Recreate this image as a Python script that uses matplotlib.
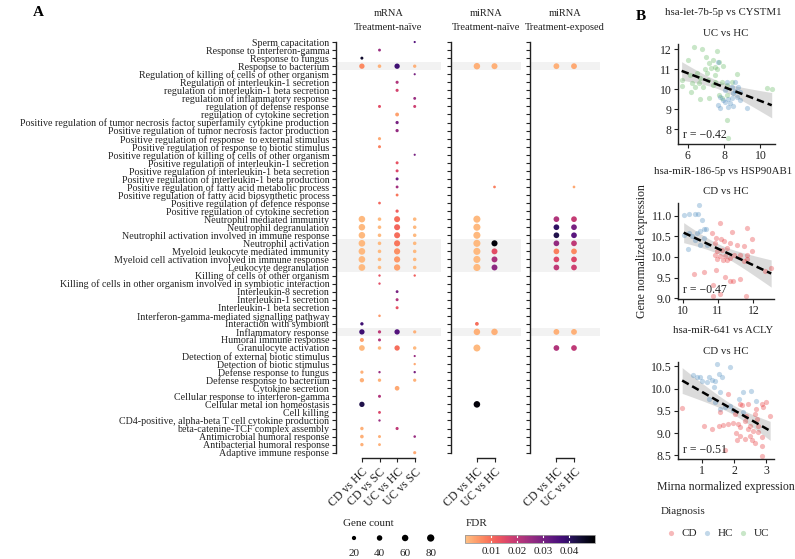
import numpy as np
import matplotlib
matplotlib.use("Agg")
import matplotlib.pyplot as plt
from matplotlib.colors import ListedColormap, Normalize
from matplotlib.cm import ScalarMappable

plt.rcParams["font.family"] = ["Liberation Serif", "DejaVu Serif"]

W, H = 795, 559

# ---- panel A data -------------------------------------------------------
terms = [
    "Sperm capacitation",
    "Response to interferon-gamma",
    "Response to fungus",
    "Response to bacterium",
    "Regulation of killing of cells of other organism",
    "Regulation of interleukin-1 secretion",
    "regulation of interleukin-1 beta secretion",
    "regulation of inflammatory response",
    "regulation of defense response",
    "regulation of cytokine secretion",
    "Positive regulation of tumor necrosis factor superfamily cytokine production",
    "Positive regulation of tumor necrosis factor production",
    "Positive regulation of response  to external stimulus",
    "Positive regulation of response to biotic stimulus",
    "Positive regulation of killing of cells of other organism",
    "Positive regulation of interleukin-1 secretion",
    "Positive regulation of interleukin-1 beta secretion",
    "Positive regulation of interleukin-1 beta production",
    "Positive regulation of fatty acid metabolic process",
    "Positive regulation of fatty acid biosynthetic process",
    "Positive regulation of defence response",
    "Positive regulation of cytokine secretion",
    "Neutrophil mediated immunity",
    "Neutrophil degranulation",
    "Neutrophil activation involved in immune response",
    "Neutrophil activation",
    "Myeloid leukocyte mediated immunity",
    "Myeloid cell activation involved in immune response",
    "Leukocyte degranulation",
    "Killing of cells of other organism",
    "Killing of cells in other organism involved in symbiotic interaction",
    "Interleukin-8 secretion",
    "Interleukin-1 secretion",
    "Interleukin-1 beta secretion",
    "Interferon-gamma-mediated signalling pathway",
    "Interaction with symbiont",
    "Inflammatory response",
    "Humoral immune response",
    "Granulocyte activation",
    "Detection of external biotic stimulus",
    "Detection of biotic stimulus",
    "Defense response to fungus",
    "Defense response to bacterium",
    "Cytokine secretion",
    "Cellular response to interferon-gamma",
    "Cellular metal ion homeostasis",
    "Cell killing",
    "CD4-positive, alpha-beta T cell cytokine production",
    "beta-catenine-TCF complex assembly",
    "Antimicrobial humoral response",
    "Antibacterial humoral response",
    "Adaptive immune response",
]

highlight = ["Response to bacterium", "Neutrophil activation",
             "Myeloid leukocyte mediated immunity",
             "Myeloid cell activation involved in immune response",
             "Leukocyte degranulation", "Inflammatory response"]

mrna_comps = ["CD vs HC", "CD vs SC", "UC vs HC", "UC vs SC"]
mirna_comps = ["CD vs HC", "UC vs HC"]

# (term, comparison, gene count, FDR)
mrna_naive = [
    ("Sperm capacitation", "UC vs SC", 2, 0.035),
    ("Response to interferon-gamma", "CD vs SC", 6, 0.025),
    ("Response to fungus", "CD vs HC", 7, 0.045),
    ("Response to bacterium", "CD vs HC", 37, 0.007),
    ("Response to bacterium", "CD vs SC", 12, 0.002),
    ("Response to bacterium", "UC vs HC", 37, 0.038),
    ("Response to bacterium", "UC vs SC", 10, 0.002),
    ("Regulation of killing of cells of other organism", "UC vs SC", 2, 0.03),
    ("Regulation of interleukin-1 secretion", "UC vs HC", 8, 0.022),
    ("regulation of interleukin-1 beta secretion", "UC vs HC", 8, 0.017),
    ("regulation of inflammatory response", "UC vs SC", 6, 0.025),
    ("regulation of defense response", "CD vs SC", 7, 0.015),
    ("regulation of defense response", "UC vs SC", 7, 0.018),
    ("regulation of cytokine secretion", "UC vs HC", 15, 0.004),
    ("Positive regulation of tumor necrosis factor superfamily cytokine production", "UC vs HC", 9, 0.03),
    ("Positive regulation of tumor necrosis factor production", "UC vs HC", 9, 0.026),
    ("Positive regulation of response  to external stimulus", "CD vs SC", 8, 0.003),
    ("Positive regulation of response to biotic stimulus", "CD vs SC", 7, 0.008),
    ("Positive regulation of killing of cells of other organism", "UC vs SC", 2, 0.03),
    ("Positive regulation of interleukin-1 secretion", "UC vs HC", 7, 0.014),
    ("Positive regulation of interleukin-1 beta secretion", "UC vs HC", 7, 0.016),
    ("Positive regulation of interleukin-1 beta production", "UC vs HC", 7, 0.032),
    ("Positive regulation of fatty acid metabolic process", "UC vs HC", 6, 0.024),
    ("Positive regulation of fatty acid biosynthetic process", "UC vs HC", 6, 0.009),
    ("Positive regulation of defence response", "CD vs SC", 5, 0.011),
    ("Positive regulation of cytokine secretion", "UC vs HC", 9, 0.012),
    ("Neutrophil mediated immunity", "CD vs HC", 62, 0.001),
    ("Neutrophil mediated immunity", "CD vs SC", 12, 0.001),
    ("Neutrophil mediated immunity", "UC vs HC", 50, 0.010),
    ("Neutrophil mediated immunity", "UC vs SC", 12, 0.001),
    ("Neutrophil degranulation", "CD vs HC", 62, 0.001),
    ("Neutrophil degranulation", "CD vs SC", 12, 0.001),
    ("Neutrophil degranulation", "UC vs HC", 50, 0.011),
    ("Neutrophil degranulation", "UC vs SC", 12, 0.001),
    ("Neutrophil activation involved in immune response", "CD vs HC", 62, 0.001),
    ("Neutrophil activation involved in immune response", "CD vs SC", 12, 0.001),
    ("Neutrophil activation involved in immune response", "UC vs HC", 50, 0.010),
    ("Neutrophil activation involved in immune response", "UC vs SC", 12, 0.001),
    ("Neutrophil activation", "CD vs HC", 64, 0.001),
    ("Neutrophil activation", "CD vs SC", 12, 0.001),
    ("Neutrophil activation", "UC vs HC", 52, 0.009),
    ("Neutrophil activation", "UC vs SC", 12, 0.001),
    ("Myeloid leukocyte mediated immunity", "CD vs HC", 65, 0.001),
    ("Myeloid leukocyte mediated immunity", "CD vs SC", 12, 0.001),
    ("Myeloid leukocyte mediated immunity", "UC vs HC", 54, 0.006),
    ("Myeloid leukocyte mediated immunity", "UC vs SC", 12, 0.001),
    ("Myeloid cell activation involved in immune response", "CD vs HC", 65, 0.001),
    ("Myeloid cell activation involved in immune response", "CD vs SC", 12, 0.001),
    ("Myeloid cell activation involved in immune response", "UC vs HC", 54, 0.005),
    ("Myeloid cell activation involved in immune response", "UC vs SC", 12, 0.001),
    ("Leukocyte degranulation", "CD vs HC", 66, 0.001),
    ("Leukocyte degranulation", "CD vs SC", 12, 0.001),
    ("Leukocyte degranulation", "UC vs HC", 56, 0.004),
    ("Leukocyte degranulation", "UC vs SC", 12, 0.001),
    ("Killing of cells of other organism", "CD vs SC", 3, 0.014),
    ("Killing of cells of other organism", "UC vs SC", 3, 0.012),
    ("Killing of cells in other organism involved in symbiotic interaction", "CD vs SC", 3, 0.015),
    ("Interleukin-8 secretion", "UC vs HC", 6, 0.03),
    ("Interleukin-1 secretion", "UC vs HC", 7, 0.022),
    ("Interleukin-1 beta secretion", "UC vs HC", 7, 0.014),
    ("Interferon-gamma-mediated signalling pathway", "CD vs SC", 4, 0.005),
    ("Interaction with symbiont", "CD vs HC", 10, 0.038),
    ("Inflammatory response", "CD vs HC", 37, 0.038),
    ("Inflammatory response", "CD vs SC", 9, 0.02),
    ("Inflammatory response", "UC vs HC", 37, 0.035),
    ("Inflammatory response", "UC vs SC", 9, 0.002),
    ("Humoral immune response", "CD vs HC", 17, 0.004),
    ("Humoral immune response", "CD vs SC", 7, 0.022),
    ("Granulocyte activation", "CD vs HC", 44, 0.001),
    ("Granulocyte activation", "CD vs SC", 11, 0.001),
    ("Granulocyte activation", "UC vs HC", 37, 0.010),
    ("Granulocyte activation", "UC vs SC", 11, 0.001),
    ("Detection of external biotic stimulus", "UC vs SC", 2, 0.025),
    ("Detection of biotic stimulus", "UC vs SC", 3, 0.003),
    ("Defense response to fungus", "CD vs HC", 9, 0.002),
    ("Defense response to fungus", "CD vs SC", 3, 0.025),
    ("Defense response to fungus", "UC vs SC", 3, 0.03),
    ("Defense response to bacterium", "CD vs HC", 21, 0.002),
    ("Defense response to bacterium", "CD vs SC", 10, 0.002),
    ("Defense response to bacterium", "UC vs SC", 9, 0.002),
    ("Cytokine secretion", "UC vs HC", 26, 0.003),
    ("Cellular response to interferon-gamma", "CD vs SC", 7, 0.022),
    ("Cellular metal ion homeostasis", "CD vs HC", 37, 0.042),
    ("Cell killing", "CD vs SC", 6, 0.016),
    ("CD4-positive, alpha-beta T cell cytokine production", "CD vs SC", 3, 0.025),
    ("beta-catenine-TCF complex assembly", "CD vs HC", 11, 0.002),
    ("beta-catenine-TCF complex assembly", "UC vs HC", 8, 0.02),
    ("Antimicrobial humoral response", "CD vs HC", 13, 0.002),
    ("Antimicrobial humoral response", "CD vs SC", 7, 0.002),
    ("Antimicrobial humoral response", "UC vs SC", 4, 0.025),
    ("Antibacterial humoral response", "CD vs HC", 10, 0.002),
    ("Antibacterial humoral response", "CD vs SC", 6, 0.002),
    ("Adaptive immune response", "UC vs SC", 8, 0.003),
]

mirna_naive = [
    ("Response to bacterium", "CD vs HC", 60, 0.002),
    ("Response to bacterium", "UC vs HC", 50, 0.002),
    ("Positive regulation of fatty acid metabolic process", "UC vs HC", 5, 0.008),
    ("Neutrophil mediated immunity", "CD vs HC", 75, 0.001),
    ("Neutrophil degranulation", "CD vs HC", 75, 0.001),
    ("Neutrophil activation involved in immune response", "CD vs HC", 75, 0.001),
    ("Neutrophil activation", "CD vs HC", 75, 0.001),
    ("Neutrophil activation", "UC vs HC", 52, 0.049),
    ("Myeloid leukocyte mediated immunity", "CD vs HC", 75, 0.001),
    ("Myeloid leukocyte mediated immunity", "UC vs HC", 48, 0.015),
    ("Myeloid cell activation involved in immune response", "CD vs HC", 75, 0.001),
    ("Myeloid cell activation involved in immune response", "UC vs HC", 48, 0.023),
    ("Leukocyte degranulation", "CD vs HC", 75, 0.001),
    ("Leukocyte degranulation", "UC vs HC", 48, 0.027),
    ("Interaction with symbiont", "CD vs HC", 14, 0.010),
    ("Inflammatory response", "CD vs HC", 60, 0.002),
    ("Inflammatory response", "UC vs HC", 60, 0.002),
    ("Granulocyte activation", "CD vs HC", 72, 0.001),
    ("Cellular metal ion homeostasis", "CD vs HC", 62, 0.049),
]

mirna_exposed = [
    ("Response to bacterium", "CD vs HC", 46, 0.002),
    ("Response to bacterium", "UC vs HC", 46, 0.003),
    ("Positive regulation of fatty acid metabolic process", "UC vs HC", 5, 0.003),
    ("Neutrophil mediated immunity", "CD vs HC", 44, 0.022),
    ("Neutrophil mediated immunity", "UC vs HC", 44, 0.019),
    ("Neutrophil degranulation", "CD vs HC", 44, 0.040),
    ("Neutrophil degranulation", "UC vs HC", 44, 0.030),
    ("Neutrophil activation involved in immune response", "CD vs HC", 44, 0.042),
    ("Neutrophil activation involved in immune response", "UC vs HC", 44, 0.034),
    ("Neutrophil activation", "CD vs HC", 44, 0.026),
    ("Neutrophil activation", "UC vs HC", 44, 0.020),
    ("Myeloid leukocyte mediated immunity", "CD vs HC", 44, 0.008),
    ("Myeloid leukocyte mediated immunity", "UC vs HC", 44, 0.007),
    ("Myeloid cell activation involved in immune response", "CD vs HC", 44, 0.016),
    ("Myeloid cell activation involved in immune response", "UC vs HC", 44, 0.016),
    ("Leukocyte degranulation", "CD vs HC", 44, 0.020),
    ("Leukocyte degranulation", "UC vs HC", 44, 0.018),
    ("Inflammatory response", "CD vs HC", 46, 0.002),
    ("Inflammatory response", "UC vs HC", 46, 0.002),
    ("Granulocyte activation", "CD vs HC", 44, 0.022),
    ("Granulocyte activation", "UC vs HC", 44, 0.020),
]

size_breaks = [20, 40, 60, 80]
fdr_ticks = [0.01, 0.02, 0.03, 0.04]

# ---- panel B data -------------------------------------------------------
b1_uc_x = [6.35, 6.81, 7.6, 6.0, 7.0, 7.4, 7.2, 7.74, 7.28, 6.94, 7.6, 5.67, 6.13, 6.5,
           6.68, 7.05, 7.5, 7.14, 7.5, 6.22, 6.4, 6.62, 6.86, 7.4, 7.87, 8.15, 8.42, 8.7,
           5.67, 6.17, 6.68, 7.19, 7.7, 7.87, 8.15, 8.15, 8.24, 10.35, 10.62, 7.5, 7.96]
b1_uc_y = [12.08, 12.02, 11.9, 11.45, 11.58, 11.45, 11.28, 11.35, 11.03, 10.98, 10.98,
           10.45, 10.7, 10.82, 10.53, 10.78, 10.7, 10.45, 10.37, 10.28, 10.08, 10.28,
           10.12, 10.2, 10.37, 10.2, 10.33, 10.75, 10.15, 9.87, 9.48, 9.53, 9.7, 9.53,
           9.7, 8.45, 7.53, 10.03, 9.98, 11.12, 11.15]
b1_hc_x = [7.69, 8.15, 8.6, 8.42, 8.06, 8.6, 8.88, 7.78, 7.96, 8.24, 8.42, 8.7, 8.06,
           8.33, 7.69, 8.51, 8.24, 8.88, 7.78, 9.25, 8.51, 8.79]
b1_hc_y = [11.37, 10.33, 10.37, 10.12, 9.95, 9.92, 9.87, 9.62, 9.45, 9.48, 9.53, 9.62,
           9.37, 9.28, 9.2, 9.15, 9.12, 9.45, 9.03, 9.03, 9.78, 10.12]

b2_hc_x = [10.03, 10.17, 10.36, 10.43, 10.46, 10.56, 10.03, 10.17, 10.26, 10.4, 10.5,
           10.59, 10.67, 10.14, 10.5, 10.69, 10.34, 10.59]
b2_hc_y = [11.02, 11.05, 11.05, 11.05, 11.25, 10.9, 10.54, 10.58, 10.5, 10.58, 10.62,
           10.68, 10.68, 10.19, 10.3, 10.3, 10.42, 10.46]
b2_cd_x = [11.06, 11.39, 11.81, 10.83, 10.95, 11.08, 10.92, 11.17, 11.34, 11.53, 11.72,
           11.95, 10.97, 11.11, 11.25, 10.92, 11.06, 11.2, 11.34, 10.97, 11.15, 11.44,
           11.62, 11.81, 11.95, 11.72, 11.81, 11.25, 12.33, 12.5, 10.95, 10.59, 10.31,
           11.2, 11.34, 11.41, 11.62, 10.87, 10.85, 11.06, 11.78]
b2_cd_y = [10.82, 10.6, 10.7, 10.58, 10.46, 10.44, 10.34, 10.38, 10.34, 10.3, 10.26,
           10.44, 10.14, 10.18, 10.22, 10.06, 10.03, 10.02, 9.98, 9.94, 9.92, 10.06,
           10.06, 10.06, 10.14, 9.9, 9.94, 9.92, 9.65, 9.73, 9.68, 9.63, 9.59, 9.52,
           9.41, 9.41, 9.47, 9.33, 9.05, 9.11, 9.06]

b3_hc_x = [1.46, 1.88, 0.72, 0.85, 0.95, 1.21, 1.31, 1.41, 1.52, 1.62, 1.15, 1.0, 1.36,
           1.57, 2.29, 2.52, 1.23, 2.16, 1.41, 1.72, 1.88, 1.98, 2.29, 2.68, 1.57]
b3_hc_y = [10.55, 10.48, 10.3, 10.26, 10.26, 10.27, 10.2, 10.18, 10.32, 10.26, 10.15,
           10.18, 10.03, 9.92, 9.92, 9.94, 9.77, 9.77, 9.7, 9.58, 9.62, 9.51, 9.47, 9.73,
           9.55]
b3_cd_x = [0.38, 1.82, 2.44, 2.19, 2.24, 2.68, 2.91, 3.01, 2.86, 1.57, 2.03, 2.39, 2.65,
           3.13, 2.72, 2.34, 2.49, 2.75, 1.05, 1.52, 1.67, 1.82, 1.98, 2.13, 2.19, 2.44,
           2.6, 1.31, 2.06, 2.19, 2.34, 2.49, 2.55, 2.75, 2.86, 2.65, 2.08, 1.72, 2.89,
           2.89]
b3_cd_y = [9.57, 9.88, 9.66, 9.66, 9.64, 9.55, 9.58, 9.7, 9.66, 9.47, 9.43, 9.39, 9.43,
           9.39, 9.32, 9.28, 9.17, 9.17, 9.17, 9.17, 9.19, 9.21, 9.24, 9.21, 9.13, 9.09,
           9.06, 9.09, 9.0, 8.94, 8.87, 8.94, 8.85, 9.02, 8.91, 8.79, 8.85, 8.62, 8.72,
           8.49]

group_colors = {"CD": "#e41a1c", "HC": "#377eb8", "UC": "#4daf4a"}

# ---- drawing ------------------------------------------------------------
fig = plt.figure(figsize=(W / 100, H / 100), dpi=100)


def px_axes(x0, y0, x1, y1):
    return fig.add_axes([x0 / W, 1 - y1 / H, (x1 - x0) / W, (y1 - y0) / H])


def dot_size(n):
    d = 1.2 + 0.68 * np.sqrt(np.asarray(n, dtype=float))
    return (d * 0.72) ** 2


cmap = ListedColormap(plt.get_cmap("magma")(np.linspace(0.87, 0.0, 256)))
norm = Normalize(0, 0.05)
ink = "#222222"


def dot_panel(ax, records, comps, labels):
    rows = sorted(terms.index(t) for t in highlight)
    start = rows[0]
    for a, b in zip(rows, rows[1:] + [None]):
        if b != a + 1:
            ax.axhspan(start - 0.5, a + 0.5, color="#f2f2f2", lw=0, zorder=0)
            start = b
    xs = [comps.index(r[1]) for r in records]
    ys = [terms.index(r[0]) for r in records]
    ax.scatter(xs, ys, s=dot_size([r[2] for r in records]),
               c=[r[3] for r in records], cmap=cmap, norm=norm, lw=0, zorder=3)
    ax.set_xlim(-1.5, len(comps) + 0.5)
    ax.set_ylim(len(terms) - 0.4, -0.6)
    for s in ("top", "right"):
        ax.spines[s].set_visible(False)
    ax.spines["left"].set_bounds(0, len(terms) - 1)
    ax.spines["bottom"].set_bounds(0, len(comps) - 1)
    for s in ("left", "bottom"):
        ax.spines[s].set_linewidth(1.0)
        ax.spines[s].set_color(ink)
    ax.set_facecolor("none")
    ax.set_yticks(range(len(terms)))
    ax.set_yticklabels(terms if labels else [], fontsize=7.2, color=ink)
    ax.set_xticks(range(len(comps)))
    ax.set_xticklabels(comps, rotation=45, ha="right", va="top",
                       rotation_mode="anchor", fontsize=8.5, color=ink)
    ax.tick_params(length=3, width=0.8, color=ink, pad=1.5)
    ax.tick_params(axis="x", pad=3)


unit = 17.6
top, bottom = 37.2, 457.5
a1 = px_axes(335.5, top, 335.5 + 6 * unit, bottom)
a2 = px_axes(450.5, top, 450.5 + 4 * unit, bottom)
a3 = px_axes(530, top, 530 + 4 * unit, bottom)
dot_panel(a1, mrna_naive, mrna_comps, True)
dot_panel(a2, mirna_naive, mirna_comps, False)
dot_panel(a3, mirna_exposed, mirna_comps, False)

for ax, t1, t2 in [(a1, "mRNA", "Treatment-naïve"),
                   (a2, "miRNA", "Treatment-naïve"),
                   (a3, "miRNA", "Treatment-exposed")]:
    ax.text(0.5, 1 + (top - 14) / (bottom - top), t1, transform=ax.transAxes,
            ha="center", va="center", fontsize=7.5, color=ink)
    ax.text(0.5, 1 + (top - 28) / (bottom - top), t2, transform=ax.transAxes,
            ha="center", va="center", fontsize=7.5, color=ink)

fig.text(38 / W, 1 - 12 / H, "A", fontsize=11, fontweight="bold", ha="center", va="center")
fig.text(641 / W, 1 - 17 / H, "B", fontsize=11, fontweight="bold", ha="center", va="center")

# size legend
lg = px_axes(340, 515, 445, 559)
lg.set_xlim(340, 445)
lg.set_ylim(559, 515)
lg.axis("off")
lg.text(343, 523, "Gene count", fontsize=8, va="center", color=ink)
lx = np.linspace(354, 430.7, len(size_breaks))
lg.scatter(lx, [538] * len(size_breaks), s=dot_size(size_breaks), color="black", lw=0)
for x, v in zip(lx, size_breaks):
    lg.text(x, 553, str(v), fontsize=8, ha="center", va="center", color=ink)

# FDR colourbar
fig.text(466 / W, 1 - 523 / H, "FDR", fontsize=8, va="center", color=ink)
cax = px_axes(465, 535, 595, 543)
cb = fig.colorbar(ScalarMappable(norm=norm, cmap=cmap), cax=cax, orientation="horizontal")
cb.set_ticks(fdr_ticks)
cb.set_ticklabels([f"{t:.2f}" for t in fdr_ticks])
cb.ax.tick_params(length=0, labelsize=8, pad=3, colors=ink)
cb.outline.set_edgecolor("#999999")
cb.outline.set_linewidth(0.6)
for t in fdr_ticks:
    cax.plot([t, t], [0, 0.2], color="white", lw=0.8)
    cax.plot([t, t], [0.8, 1], color="white", lw=0.8)


# ---- panel B --------------------------------------------------------------
def scatter_panel(ax, groups, xlim, ylim, xticks, yticks, ylabels, title, sub, rtxt):
    xs, ys = [], []
    for name, gx, gy in groups:
        ax.scatter(gx, gy, s=14, color=group_colors[name], alpha=0.3, lw=0, zorder=2)
        xs += gx
        ys += gy
    xs, ys = np.array(xs), np.array(ys)
    b, a = np.polyfit(xs, ys, 1)
    gx = np.linspace(xs.min(), xs.max(), 100)
    fit = a + b * gx
    resid = ys - (a + b * xs)
    n = len(xs)
    se = np.sqrt(np.sum(resid ** 2) / (n - 2))
    band = 1.99 * se * np.sqrt(1 / n + (gx - xs.mean()) ** 2 / np.sum((xs - xs.mean()) ** 2))
    ax.fill_between(gx, fit - band, fit + band, color="#999999", alpha=0.35, lw=0, zorder=1)
    ax.plot(gx, fit, color="black", lw=1.8, ls=(0, (3, 1.6)), zorder=3)
    ax.set_xlim(*xlim)
    ax.set_ylim(*ylim)
    ax.set_xticks(xticks)
    ax.set_yticks(yticks)
    ax.set_yticklabels(ylabels)
    for s in ("top", "right"):
        ax.spines[s].set_visible(False)
    for s in ("left", "bottom"):
        ax.spines[s].set_linewidth(1.0)
        ax.spines[s].set_color(ink)
    ax.tick_params(length=3, width=0.8, color=ink, labelsize=8.5, pad=1.5, labelcolor=ink)
    ax.set_facecolor("none")
    bb = ax.get_position()
    cx = 723 / W
    fig.text(cx, bb.y1 + 31.5 / H, title, ha="center", va="center", fontsize=7.8, color=ink)
    fig.text(cx + 3 / W, bb.y1 + 11 / H, sub, ha="center", va="center", fontsize=7.8, color=ink)
    ax.text(0.05, 0.09, rtxt, transform=ax.transAxes, ha="left", va="center",
            fontsize=8.5, color=ink)


b1 = px_axes(678, 44, 775, 144)
b2 = px_axes(678, 203, 774, 299)
b3 = px_axes(678, 362, 774, 459)
scatter_panel(b1, [("UC", b1_uc_x, b1_uc_y), ("HC", b1_hc_x, b1_hc_y)],
              (5.47, 10.8), (7.25, 12.25), [6, 8, 10], [8, 9, 10, 11, 12],
              ["8", "9", "10", "11", "12"],
              "hsa-let-7b-5p vs CYSTM1", "UC vs HC", "r = −0.42")
scatter_panel(b2, [("HC", b2_hc_x, b2_hc_y), ("CD", b2_cd_x, b2_cd_y)],
              (9.87, 12.58), (8.98, 11.31), [10, 11, 12], [9.0, 9.5, 10.0, 10.5, 11.0],
              ["9.0", "9.5", "10.0", "10.5", "11.0"],
              "hsa-miR-186-5p vs HSP90AB1", "CD vs HC", "r = −0.47")
scatter_panel(b3, [("HC", b3_hc_x, b3_hc_y), ("CD", b3_cd_x, b3_cd_y)],
              (0.25, 3.25), (8.42, 10.6), [1, 2, 3], [8.5, 9.0, 9.5, 10.0, 10.5],
              ["8.5", "9.0", "9.5", "10.0", "10.5"],
              "hsa-miR-641 vs ACLY", "CD vs HC", "r = −0.51")

b2.set_ylabel("Gene normalized expression", fontsize=8.5, color=ink, labelpad=2)
b3.set_xlabel("Mirna normalized expression", fontsize=8.5, color=ink, labelpad=3)

# diagnosis legend
fig.text(661 / W, 1 - 511 / H, "Diagnosis", fontsize=8, va="center", color=ink)
dl = px_axes(660, 525, 790, 541)
dl.set_xlim(660, 790)
dl.set_ylim(541, 525)
dl.axis("off")
for i, name in enumerate(["CD", "HC", "UC"]):
    x = 670.7 + 36 * i
    dl.scatter([x], [533], s=14, color=group_colors[name], alpha=0.3, lw=0)
    dl.text(x + 11, 533, name, fontsize=8, va="center", color=ink)

fig.savefig("out.png", dpi=100)
